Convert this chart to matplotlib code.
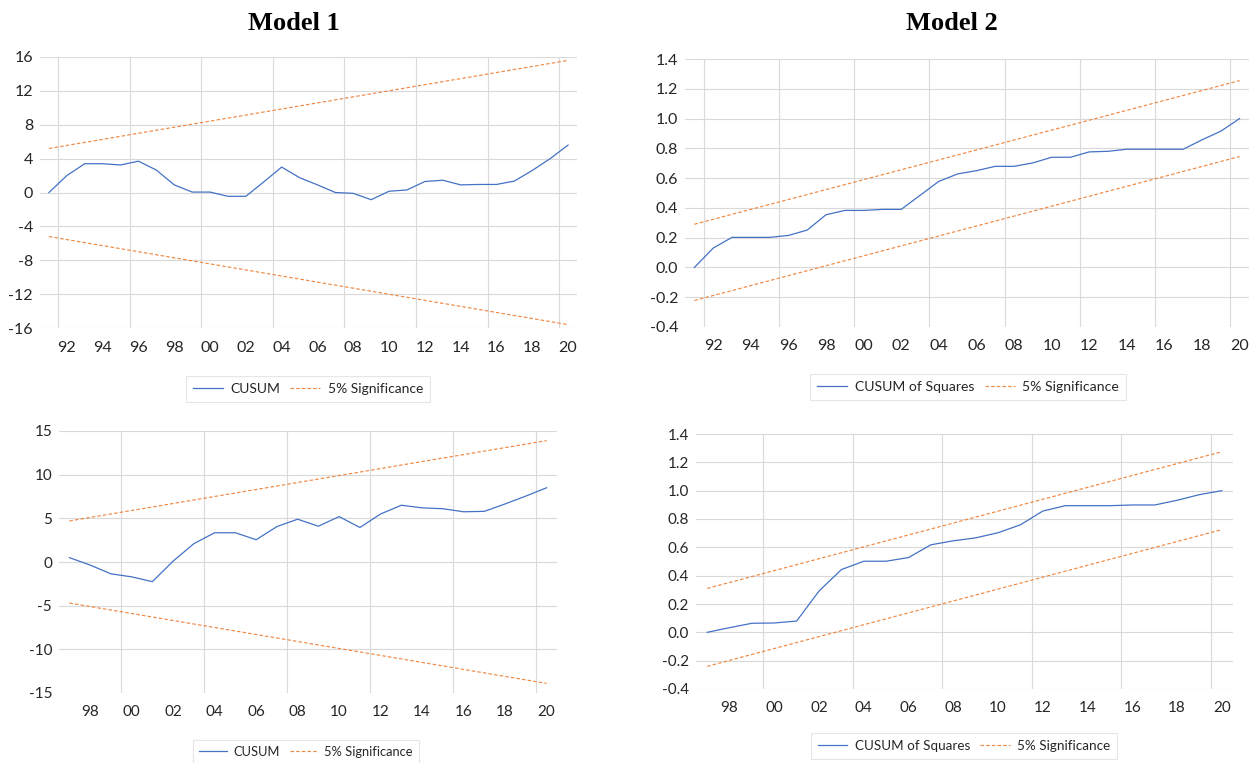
import matplotlib
matplotlib.use("Agg")
import matplotlib.pyplot as plt
from matplotlib.ticker import FixedLocator, FuncFormatter

plt.rcParams["font.family"] = ["Lato", "DejaVu Sans"]

# ---------------- data ----------------
years_top = list(range(1991, 2021))
years_bottom = list(range(1997, 2021))
band_years_top = [1991, 2020]
band_years_bottom = [1997, 2020]

# Model 1, top: CUSUM
cusum_top = [0.0, 2.0, 3.4, 3.4, 3.25, 3.7, 2.65, 0.9, 0.05, 0.05,
             -0.45, -0.45, 1.25, 3.0, 1.75, 0.9, 0.0, -0.1, -0.85, 0.15,
             0.3, 1.3, 1.45, 0.9, 0.95, 0.95, 1.35, 2.6, 4.0, 5.6]
cusum_top_upper = [5.2, 15.6]
cusum_top_lower = [-5.2, -15.6]

# Model 2, top: CUSUM of squares
cusumsq_top = [0.0, 0.13, 0.202, 0.202, 0.202, 0.215, 0.251, 0.354, 0.383, 0.383,
               0.39, 0.39, 0.484, 0.578, 0.628, 0.65, 0.679, 0.679, 0.702, 0.74,
               0.74, 0.776, 0.78, 0.794, 0.794, 0.794, 0.794, 0.857, 0.915, 1.0]
cusumsq_top_upper = [0.29, 1.255]
cusumsq_top_lower = [-0.222, 0.745]

# Model 1, bottom: CUSUM
cusum_bottom = [0.5, -0.35, -1.35, -1.7, -2.25, 0.1, 2.1, 3.35, 3.35, 2.55,
                4.05, 4.9, 4.1, 5.2, 3.95, 5.5, 6.5, 6.2, 6.1, 5.75,
                5.8, 6.65, 7.55, 8.5]
cusum_bottom_upper = [4.7, 13.9]
cusum_bottom_lower = [-4.7, -13.9]

# Model 2, bottom: CUSUM of squares
cusumsq_bottom = [0.0, 0.033, 0.064, 0.066, 0.08, 0.292, 0.443, 0.502, 0.502, 0.528,
                  0.618, 0.646, 0.667, 0.703, 0.759, 0.856, 0.894, 0.894, 0.894, 0.899,
                  0.899, 0.932, 0.972, 1.0]
cusumsq_bottom_upper = [0.31, 1.275]
cusumsq_bottom_lower = [-0.24, 0.725]

titles = ["Model 1", "Model 2"]
label_cusum = "CUSUM"
label_cusumsq = "CUSUM of Squares"
label_sig = "5% Significance"

# ---------------- style ----------------
BLUE = "#4472C4"
ORANGE = "#ED7D31"
GRID = "#D9D9D9"
TEXT = "#262626"

W, H = 1257, 763
fig = plt.figure(figsize=(W / 100, H / 100), dpi=100)
fig.patch.set_facecolor("white")


def rect(x0, x1, ytop, ybot):
    return [x0 / W, 1 - ybot / H, (x1 - x0) / W, (ybot - ytop) / H]


def panel(r, years, series, byears, upper, lower, label, xlim, ylim, yticks,
          yfmt, xticks, vgrid, fsize, legend_center, leg_fs, hlen):
    ax = fig.add_axes(r)
    l1, = ax.plot(years, series, color=BLUE, lw=0.9, label=label, zorder=3)
    l2, = ax.plot(byears, upper, color=ORANGE, lw=0.85, ls=(0, (3.0, 1.8)),
                  alpha=0.9, label=label_sig, zorder=3)
    ax.plot(byears, lower, color=ORANGE, lw=0.85, ls=(0, (3.0, 1.8)),
            alpha=0.9, zorder=3)
    ax.set_xlim(*xlim)
    ax.set_ylim(*ylim)
    ax.yaxis.set_major_locator(FixedLocator(yticks))
    ax.yaxis.set_major_formatter(FuncFormatter(yfmt))
    ax.xaxis.set_major_locator(FixedLocator(xticks))
    ax.xaxis.set_major_formatter(FuncFormatter(lambda v, p: f"{int(round(v)) % 100:02d}"))
    ax.xaxis.set_minor_locator(FixedLocator(vgrid))
    ax.grid(False)
    ax.grid(True, axis="y", which="major", color=GRID, lw=0.8, zorder=0)
    ax.grid(True, axis="x", which="minor", color=GRID, lw=0.8, zorder=0)
    for s in ax.spines.values():
        s.set_visible(False)
    ax.tick_params(axis="both", which="both", length=0, labelsize=fsize,
                   labelcolor=TEXT)
    ax.tick_params(axis="y", pad=5)
    ax.tick_params(axis="x", pad=9)
    leg = fig.legend(handles=[l1, l2], loc="center",
                     bbox_to_anchor=(legend_center[0] / W, 1 - legend_center[1] / H),
                     ncol=2, frameon=True, fancybox=False, fontsize=leg_fs,
                     handlelength=hlen, handletextpad=0.55, columnspacing=0.75,
                     borderpad=0.5, labelcolor=TEXT)
    leg.get_frame().set_edgecolor("#E0E0E0")
    leg.get_frame().set_linewidth(0.8)
    return ax


int_fmt = lambda v, p: f"{int(round(v))}"
dec_fmt = lambda v, p: f"{v:.1f}"

panel(rect(40, 577, 57, 328), years_top, cusum_top, band_years_top,
      cusum_top_upper, cusum_top_lower, label_cusum,
      (1990.5, 2020.5), (-16, 16), list(range(-16, 17, 4)), int_fmt,
      list(range(1992, 2021, 2)), [1991.5 + 4 * k for k in range(8)], 11.5,
      (308, 389), 10, 2.15)

panel(rect(685, 1249, 59, 327), years_top, cusumsq_top, band_years_top,
      cusumsq_top_upper, cusumsq_top_lower, label_cusumsq,
      (1990.5, 2020.5), (-0.4, 1.4), [-0.4 + 0.2 * k for k in range(10)], dec_fmt,
      list(range(1992, 2021, 2)), [1991.5 + 4 * k for k in range(8)], 11.5,
      (968, 387), 10.1, 2.15)

panel(rect(59, 557, 431, 693), years_bottom, cusum_bottom, band_years_bottom,
      cusum_bottom_upper, cusum_bottom_lower, label_cusum,
      (1996.5, 2020.5), (-15, 15), list(range(-15, 16, 5)), int_fmt,
      list(range(1998, 2021, 2)), [1999.5 + 4 * k for k in range(6)], 11,
      (306, 752), 9.3, 2.1)

panel(rect(696, 1233, 434, 689), years_bottom, cusumsq_bottom, band_years_bottom,
      cusumsq_bottom_upper, cusumsq_bottom_lower, label_cusumsq,
      (1996.5, 2020.5), (-0.4, 1.4), [-0.4 + 0.2 * k for k in range(10)], dec_fmt,
      list(range(1998, 2021, 2)), [1999.5 + 4 * k for k in range(6)], 11,
      (964, 746), 9.7, 2.2)

for t, xc in zip(titles, [294, 952]):
    fig.text(xc / W, 1 - 23 / H, t, ha="center", va="center", fontsize=19,
             fontweight="bold", family=["Liberation Serif", "DejaVu Serif"],
             color="black")

fig.savefig("out.png", dpi=100, facecolor="white")
